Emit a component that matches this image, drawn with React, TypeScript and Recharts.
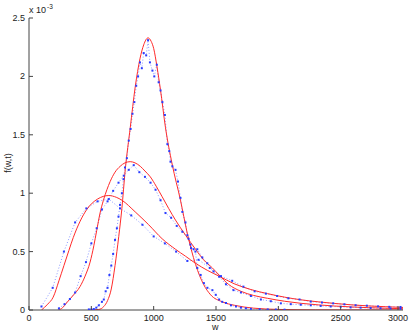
import { Line, LineChart, XAxis, YAxis } from 'recharts';

// w values and f(w,t) (units of 1e-3) for the three fitted curves
const fitAW = [100, 150, 194, 240, 280, 320, 355, 410, 463, 550, 640, 700, 745, 852, 960, 1068, 1175, 1256, 1336, 1430, 1524, 1645, 1780, 1914, 2050, 2183, 2320, 2452, 2590, 2721, 2860, 3000];
const fitAF = [0, 0.05, 0.11, 0.25, 0.38, 0.51, 0.62, 0.76, 0.86, 0.95, 0.98, 0.965, 0.94, 0.84, 0.73, 0.61, 0.52, 0.46, 0.4, 0.34, 0.29, 0.225, 0.175, 0.14, 0.11, 0.087, 0.07, 0.056, 0.044, 0.035, 0.028, 0.022];

const fitBW = [235, 270, 301, 350, 409, 450, 490, 520, 543, 570, 597, 625, 651, 690, 731, 770, 812, 850, 893, 930, 973, 1020, 1068, 1120, 1175, 1256, 1336, 1400, 1471, 1524, 1600, 1700, 1800, 1914, 2050, 2183, 2320, 2452, 2590, 2721, 2860, 3000];
const fitBF = [0, 0.02, 0.06, 0.12, 0.2, 0.29, 0.41, 0.55, 0.68, 0.83, 0.94, 1.03, 1.1, 1.18, 1.23, 1.26, 1.27, 1.26, 1.23, 1.19, 1.14, 1.06, 0.97, 0.87, 0.77, 0.64, 0.52, 0.43, 0.36, 0.3, 0.22, 0.16, 0.125, 0.1, 0.075, 0.057, 0.044, 0.034, 0.026, 0.02, 0.015, 0.011];

const fitCW = [500, 560, 600, 630, 660, 690, 720, 745, 772, 812, 852, 890, 920, 955, 980, 1000, 1027, 1054, 1095, 1148, 1215, 1269, 1336, 1400, 1457, 1550, 1650, 1800, 2000, 2300, 3000];
const fitCF = [0, 0.005, 0.03, 0.08, 0.18, 0.38, 0.63, 0.87, 1.2, 1.56, 1.91, 2.15, 2.27, 2.33, 2.3, 2.24, 2.08, 1.89, 1.56, 1.25, 0.94, 0.66, 0.39, 0.22, 0.13, 0.07, 0.04, 0.016, 0.005, 0.001, 0];

// measured points
const dataAW = [100, 190, 280, 370, 460, 550, 640, 730, 820, 910, 1000, 1090, 1180, 1270, 1360, 1450, 1540, 1630, 1720, 1810, 1900, 1990, 2080, 2170, 2260, 2350, 2440, 2530, 2620, 2710, 2800, 2890, 2980];
const dataAF = [0.03, 0.19, 0.5, 0.75, 0.87, 0.93, 0.95, 0.87, 0.81, 0.73, 0.63, 0.57, 0.5, 0.42, 0.43, 0.36, 0.29, 0.25, 0.2, 0.16, 0.14, 0.12, 0.1, 0.09, 0.072, 0.064, 0.057, 0.049, 0.041, 0.037, 0.031, 0.027, 0.026];

const dataBW = [240, 285, 328, 370, 414, 457, 500, 543, 585, 630, 675, 718, 760, 800, 840, 885, 930, 975, 1015, 1055, 1095, 1140, 1185, 1230, 1280, 1300, 1350, 1390, 1430, 1480, 1525, 1580, 1640, 1700, 1780, 1860, 1940, 2020, 2100, 2180, 2260, 2340, 2420, 2500, 2580, 2660, 2740, 2820, 2900, 2980];
const dataBF = [0.014, 0.05, 0.094, 0.15, 0.29, 0.41, 0.57, 0.7, 0.86, 0.93, 1.02, 1.09, 1.15, 1.2, 1.24, 1.18, 1.14, 1.09, 1.03, 0.94, 0.83, 0.79, 0.72, 0.67, 0.61, 0.53, 0.52, 0.45, 0.4, 0.33, 0.285, 0.22, 0.17, 0.15, 0.12, 0.09, 0.075, 0.057, 0.05, 0.045, 0.04, 0.035, 0.03, 0.028, 0.022, 0.02, 0.017, 0.015, 0.013, 0.011];

const dataCW = [480, 500, 520, 540, 560, 585, 600, 615, 630, 645, 660, 675, 690, 705, 718, 730, 745, 758, 770, 785, 800, 815, 830, 845, 860, 875, 890, 905, 920, 940, 955, 970, 990, 1005, 1025, 1040, 1055, 1070, 1090, 1110, 1125, 1135, 1150, 1175, 1195, 1215, 1230, 1255, 1270, 1295, 1320, 1335, 1350, 1377, 1403, 1431, 1471, 1498, 1525, 1550, 1580, 1620, 1660, 1700, 1740, 1780, 1850, 1915, 1980, 2050];
const dataCF = [0.005, 0.005, 0.008, 0.02, 0.04, 0.07, 0.09, 0.16, 0.19, 0.3, 0.38, 0.48, 0.6, 0.7, 0.8, 0.9, 1.0, 1.12, 1.22, 1.3, 1.45, 1.55, 1.68, 1.78, 1.92, 2.0, 2.12, 2.07, 2.2, 2.18, 2.31, 2.12, 2.05, 2.0, 2.1, 1.95, 1.88, 1.78, 1.67, 1.42, 1.36, 1.27, 1.23, 1.2, 1.1, 0.96, 0.84, 0.75, 0.64, 0.56, 0.52, 0.5, 0.36, 0.3, 0.23, 0.19, 0.17, 0.13, 0.09, 0.07, 0.06, 0.04, 0.03, 0.02, 0.015, 0.01, 0.007, 0.005, 0.004, 0.003];

const xTicks = [0, 500, 1000, 1500, 2000, 2500, 3000];
const yTicks = [0, 0.5, 1, 1.5, 2, 2.5];

const zip = (w: number[], f: number[]) => w.map((x, i) => ({ x, f: f[i] }));

const FONT = '"Liberation Sans", Arial, sans-serif';
const AXIS = '#444';
const RED = '#ff2a2a';
const FS = 9;

const BottomTick = ({ x, y, payload }: any) => (
  <g>
    <line x1={x} x2={x} y1={y} y2={y - 4} stroke={AXIS} />
    <text x={x} y={y + 10.5} textAnchor="middle" fontSize={FS} fontFamily={FONT} fill="#222">{payload.value}</text>
  </g>
);
const TopTick = ({ x, y }: any) => <line x1={x} x2={x} y1={y} y2={y + 4} stroke={AXIS} />;
const LeftTick = ({ x, y, payload }: any) => (
  <g>
    <line x1={x} x2={x + 4} y1={y} y2={y} stroke={AXIS} />
    <text x={x - 4} y={y + 3} textAnchor="end" fontSize={FS} fontFamily={FONT} fill="#222">{payload.value}</text>
  </g>
);
const RightTick = ({ x, y }: any) => <line x1={x} x2={x - 4} y1={y} y2={y} stroke={AXIS} />;

const dot = (p: any) => <rect key={p.index} x={p.cx - 1} y={p.cy - 1} width={2} height={2} fill="#2a3cff" />;

export default function App() {
  const series = [
    { d: zip(dataAW, dataAF), id: 'dA' },
    { d: zip(dataBW, dataBF), id: 'dB' },
    { d: zip(dataCW, dataCF), id: 'dC' },
  ];
  const fits = [
    { d: zip(fitAW, fitAF), id: 'fA' },
    { d: zip(fitBW, fitBF), id: 'fB' },
    { d: zip(fitCW, fitCF), id: 'fC' },
  ];
  return (
    <div style={{ position: 'absolute', left: 0, top: 0, width: 414, height: 334, background: '#fff', fontFamily: FONT }}>
      <LineChart width={414} height={334} margin={{ top: 18, right: 11, bottom: 0, left: 0 }}>
        <XAxis xAxisId="b" dataKey="x" type="number" domain={[0, 3000]} ticks={xTicks} height={24}
          stroke={AXIS} tickSize={0} tickMargin={0} tick={<BottomTick />} allowDataOverflow />
        <XAxis xAxisId="t" orientation="top" dataKey="x" type="number" domain={[0, 3000]} ticks={xTicks} height={0}
          stroke={AXIS} tickSize={0} tickMargin={0} tick={<TopTick />} />
        <YAxis yAxisId="l" type="number" domain={[0, 2.5]} ticks={yTicks} width={29}
          stroke={AXIS} tickSize={0} tickMargin={0} tick={<LeftTick />} allowDataOverflow />
        <YAxis yAxisId="r" orientation="right" type="number" domain={[0, 2.5]} ticks={yTicks} width={0}
          stroke={AXIS} tickSize={0} tickMargin={0} tick={<RightTick />} />
        {series.map((s) => (
          <Line key={s.id} data={s.d} dataKey="f" xAxisId="b" yAxisId="l" type="linear" stroke="#8a98ff"
            strokeWidth={1} strokeDasharray="1 2" dot={dot} activeDot={false} isAnimationActive={false} />
        ))}
        {fits.map((s) => (
          <Line key={s.id} data={s.d} dataKey="f" xAxisId="b" yAxisId="l" type="monotone" stroke={RED}
            strokeWidth={1} dot={false} activeDot={false} isAnimationActive={false} />
        ))}
      </LineChart>
      <div style={{ position: 'absolute', left: 29, top: 5, fontSize: FS, lineHeight: '10px', color: '#222', whiteSpace: 'nowrap' }}>
        x 10<span style={{ fontSize: 6.5, position: 'relative', top: -4, marginLeft: 1 }}>-3</span>
      </div>
      <div style={{ position: 'absolute', left: 2, top: 163, fontSize: FS, color: '#222', transform: 'translate(0,-50%) rotate(-90deg)', transformOrigin: 'center', width: 12, whiteSpace: 'nowrap', display: 'flex', justifyContent: 'center' }}>
        f(w,t)
      </div>
      <div style={{ position: 'absolute', left: 212, top: 323, fontSize: FS, lineHeight: '9px', color: '#222' }}>w</div>
    </div>
  );
}
